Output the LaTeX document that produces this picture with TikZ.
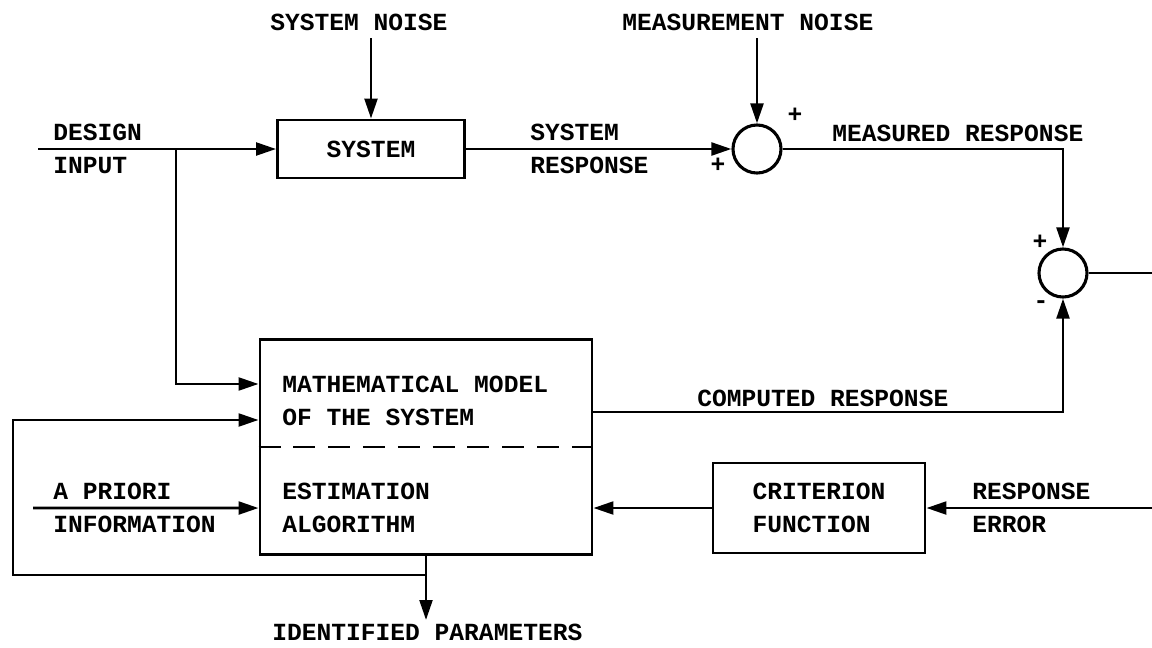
\documentclass[tikz,border=0pt]{standalone}
\usepackage{fontspec}
\usepackage{tikz}
\usetikzlibrary{arrows.meta,positioning,calc}
\newfontfamily\tw{Liberation Mono}
\tikzset{
	blk/.style={
		draw,
		line width=2pt,
		align=left,
		inner sep=0pt,
		font=\tw\bfseries\fontsize{17.5}{23.5}\selectfont
	},
	sumj/.style={draw, circle, line width=2.2pt, minimum size=1.2cm, inner sep=0pt},
	lbl/.style={inner sep=0pt, align=left, font=\tw\bfseries\fontsize{17.5}{23.5}\selectfont},
	ln/.style={line width=2pt},
	arr/.style={-{Triangle[length=5mm,width=3.2mm]}, line width=2pt}
}

\begin{document}
\begin{tikzpicture}[x=0.025cm, y=-0.025cm]
		\useasboundingbox (0,0) rectangle (1152,647);
		% blocks
		\node[blk, minimum width=4.675cm, minimum height=1.45cm] (sys) at (371,149) {SYSTEM};
		\node[sumj] (sum1) at (757,149) {};
		\node[sumj] (sum2) at (1063,273) {};
		\node[blk, minimum width=8.3cm, minimum height=5.375cm] (model) at (426,447) {};
		\node[blk, minimum width=5.3cm, minimum height=2.25cm] (crit) at (819,508) {CRITERION\\FUNCTION};
		\node[lbl, anchor=west] (mtop) at (282,401) {MATHEMATICAL MODEL\\OF THE SYSTEM};
		\node[lbl, anchor=west] (mbot) at (282,508) {ESTIMATION\\ALGORITHM};
		\draw[ln, dash pattern=on 0.55cm off 0.32cm] (model.west) -- (model.east);
		% labels
		\node[lbl, anchor=base west] (sn) at (270,30) {SYSTEM NOISE};
		\node[lbl, anchor=base west] (mn) at (622,30) {MEASUREMENT NOISE};
		\node[lbl, anchor=west] (di) at (53,149) {DESIGN\\INPUT};
		\node[lbl, anchor=west] (sr) at (530,149) {SYSTEM\\RESPONSE};
		\node[lbl, anchor=base west] (mr) at (832,141) {MEASURED RESPONSE};
		\node[lbl, anchor=base west] (cr) at (697,406) {COMPUTED RESPONSE};
		\node[lbl, anchor=west] (ap) at (53,508) {A PRIORI\\INFORMATION};
		\node[lbl, anchor=west] (re) at (972,508) {RESPONSE\\ERROR};
		\node[lbl, anchor=base west] (ip) at (272,640) {IDENTIFIED PARAMETERS};
		\node[lbl] (p1) at (718,165) {+};
		\node[lbl] (p2) at (795,115) {+};
		\node[lbl] (p3) at (1040,242) {+};
		\node[lbl] (m3) at (1041,305) {-};
		% free ends
		\coordinate (in) at (38,149);
		\coordinate (br) at (176,149);
		\coordinate (n1) at (371,38);
		\coordinate (n2) at (757,38);
		\coordinate (eout) at (1152,273);
		\coordinate (ein) at (1152,508);
		\coordinate (pin) at (33,508);
		\coordinate (lpa) at (426,575);
		\coordinate (lpb) at (13,575);
		\coordinate (out) at (426,620);
		% connectors
		\draw[arr] (n1) -- (sys.north);
		\draw[arr] (n2) -- (sum1.north);
		\draw[arr] (in) -- (sys.west);
		\draw[arr] (sys.east) -- (sum1.west);
		\draw[arr] (sum1.east) -| (sum2.north);
		\draw[ln] (sum2.east) -- (eout);
		\draw[arr] (br) |- ([yshift=1.575cm]model.west);
		\draw[arr] ([yshift=0.875cm]model.east) -| (sum2.south);
		\draw[arr] (ein) -- (crit.east);
		\draw[arr] (crit.west) -- (model.east |- crit.west);
		\draw[arr] (pin) -- ([yshift=-1.525cm]model.west);
		\draw[arr] (model.south) -- (out);
		\draw[arr] (lpa) -- (lpb) |- ([yshift=0.675cm]model.west);
	\end{tikzpicture}
\end{document}
